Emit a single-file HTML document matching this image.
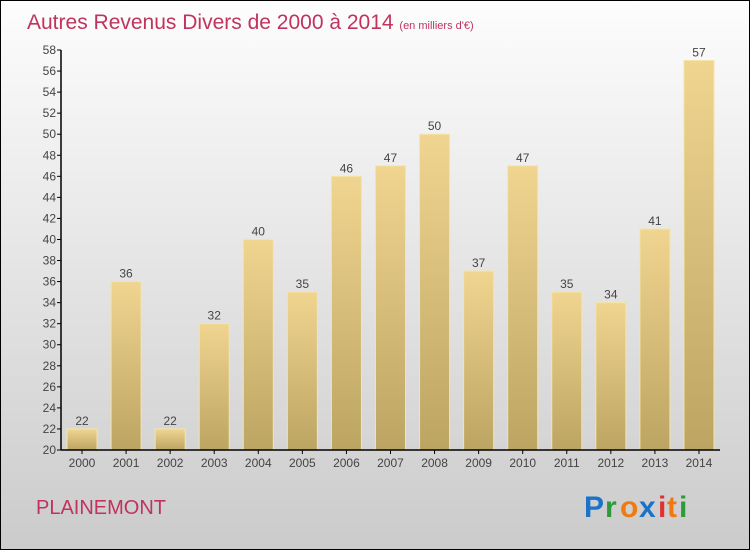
<!DOCTYPE html>
<html><head><meta charset="utf-8"><style>
body{margin:0}
svg{display:block;font-family:"Liberation Sans",sans-serif}
</style></head><body>
<svg width="750" height="550" viewBox="0 0 750 550">
<defs>
<linearGradient id="bg" x1="0" y1="0" x2="0" y2="1"><stop offset="0" stop-color="#fdfdfd"/><stop offset="1" stop-color="#cbcbcb"/></linearGradient>
<linearGradient id="bar" x1="0" y1="0" x2="0" y2="1"><stop offset="0" stop-color="#f0d590"/><stop offset="1" stop-color="#bca462"/></linearGradient>
</defs>
<rect x="0.5" y="0.5" width="749" height="549" fill="url(#bg)" stroke="#000"/>
<text x="27" y="29" font-size="21" fill="#c0335f">Autres Revenus Divers de 2000 à 2014 <tspan font-size="11">(en milliers d'€)</tspan></text>
<g id="yaxis"></g>
<g id="bars"></g>
<g id="xaxis"></g>
<text x="36" y="514" font-size="20" fill="#c0335f">PLAINEMONT</text>
<g font-size="30" font-weight="bold">
<text x="584" y="517" fill="#1a73c8">P</text><text x="605" y="517" fill="#2e9a3a">r</text><text x="620" y="517" fill="#f07a10">o</text><text x="639" y="517" fill="#1a73c8">x</text><text x="658" y="517" fill="#e03030">i</text><text x="667" y="517" fill="#f07a10">t</text><text x="679" y="517" fill="#2e9a3a">i</text>
</g>
</svg>
<script>
const years=["2000","2001","2002","2003","2004","2005","2006","2007","2008","2009","2010","2011","2012","2013","2014"];
const values=[22,36,22,32,40,35,46,47,50,37,47,35,34,41,57];
const yTicks=[20,22,24,26,28,30,32,34,36,38,40,42,44,46,48,50,52,54,56,58];
const NS="http://www.w3.org/2000/svg";
const yMin=20,yMax=58,yTop=50,yBot=450,xL=61,xR=720;
const y=v=>yBot-(v-yMin)/(yMax-yMin)*(yBot-yTop);
const x=i=>82+i*44.07;
function mk(t,a,p,txt){const e=document.createElementNS(NS,t);for(const k in a)e.setAttribute(k,a[k]);if(txt!=null)e.textContent=txt;p.appendChild(e);return e;}
const ya=document.getElementById('yaxis'),xa=document.getElementById('xaxis'),bs=document.getElementById('bars');
yTicks.forEach(v=>{
  const l=mk('line',{x1:xL-4,x2:xL,y1:y(v),y2:y(v),stroke:'#000'},ya);
  
  
  const t=mk('text',{x:xL-5,y:y(v)+4,'font-size':12,fill:'#444','text-anchor':'end'},ya,v);
  
  
});
mk('line',{x1:xL,x2:xL,y1:yTop,y2:yBot,stroke:'#000','stroke-width':1.5},ya);
values.forEach((v,i)=>{
  const r=mk('rect',{x:x(i)-15,y:y(v),width:30,height:yBot-y(v),fill:'url(#bar)',stroke:'#f5e4a8','stroke-width':1},bs);
  
  
  const t=mk('text',{x:x(i),y:y(v)-4,'font-size':12,fill:'#444','text-anchor':'middle'},bs,v);
  
  
  const tk=mk('line',{x1:x(i),x2:x(i),y1:yBot,y2:yBot+4,stroke:'#000'},xa);
  
  
  const xl=mk('text',{x:x(i),y:yBot+17,'font-size':12,fill:'#444','text-anchor':'middle'},xa,years[i]);
  
  
});
mk('line',{x1:xL,x2:xR,y1:yBot,y2:yBot,stroke:'#000','stroke-width':1.5},xa);
</script>
</body></html>
